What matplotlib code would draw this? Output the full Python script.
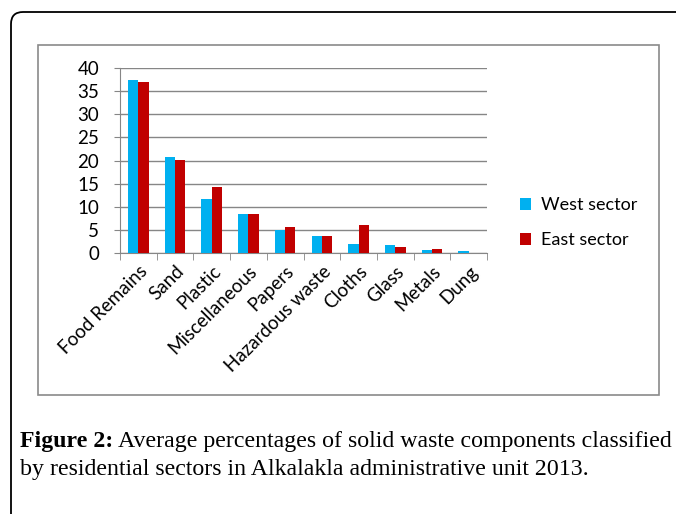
import matplotlib
matplotlib.use("Agg")
import matplotlib.pyplot as plt
import numpy as np
from matplotlib.patches import FancyBboxPatch, Rectangle

categories = ["Food Remains", "Sand", "Plastic", "Miscellaneous", "Papers",
              "Hazardous waste", "Cloths", "Glass", "Metals", "Dung"]
west = [37.3, 20.8, 11.7, 8.4, 5.0, 3.7, 1.9, 1.7, 0.6, 0.4]
east = [36.9, 20.2, 14.3, 8.4, 5.6, 3.7, 6.0, 1.4, 0.9, 0.0]
yticks = [0, 5, 10, 15, 20, 25, 30, 35, 40]
series_names = ["West sector", "East sector"]
colors = ["#00B0F0", "#C00000"]

W, H = 676, 514
fig = plt.figure(figsize=(W / 100, H / 100), dpi=100)
font = "Lato"

# outer rounded frame
frame = FancyBboxPatch((0.11, -0.5), 7.5, 5.02 + 0.5,
                       boxstyle="round,pad=0,rounding_size=0.12",
                       transform=fig.dpi_scale_trans, fill=False,
                       edgecolor="black", linewidth=1.3)
fig.add_artist(frame)

# inner chart box
fig.add_artist(Rectangle((38 / W, 1 - 395 / H), (659 - 38) / W, (395 - 45) / H,
                         transform=fig.transFigure, fill=False,
                         edgecolor="#8a8a8a", linewidth=1.2))

ax = fig.add_axes([120 / W, 1 - 253 / H, (487 - 120) / W, (253 - 68) / H])
x = np.arange(len(categories))
bw = 0.28
ax.bar(x - bw / 2, west, bw, color=colors[0], label=series_names[0], zorder=3)
ax.bar(x + bw / 2, east, bw, color=colors[1], label=series_names[1], zorder=3)

ax.set_xlim(-0.5, len(categories) - 0.5)
ax.set_ylim(0, 40)
ax.set_yticks(yticks)
ax.set_yticklabels([str(v) for v in yticks], fontsize=13.5, family=font)
ax.yaxis.grid(True, color="#868686", linewidth=1, zorder=0)
ax.set_axisbelow(True)
for s in ["top", "right"]:
    ax.spines[s].set_visible(False)
ax.spines["left"].set_color("#868686")
ax.spines["bottom"].set_color("#868686")
ax.tick_params(axis="y", length=4, color="#868686", pad=11)

ax.set_xticks(x)
ax.set_xticklabels(categories, rotation=45, ha="right", rotation_mode="anchor",
                   fontsize=13.5, family=font)
ax.tick_params(axis="x", length=0, pad=7)
ax.set_xticks(np.arange(len(categories) + 1) - 0.5, minor=True)
ax.tick_params(axis="x", which="minor", length=5, color="#868686")

leg = fig.legend(loc="upper left", bbox_to_anchor=(504 / W, 1 - 181 / H),
                 frameon=False, prop={"family": font, "size": 13},
                 handlelength=0.6, handleheight=0.6, handletextpad=0.55,
                 labelspacing=1.05)

# caption
cap_font = "Liberation Serif"
cap_size = 17.2
t1 = fig.text(20 / W, 1 - 441 / H, "Figure 2:", family=cap_font,
              fontweight="bold", fontsize=cap_size, va="center", ha="left")
fig.canvas.draw()
bb = t1.get_window_extent()
fig.text((bb.x1 + 5) / W, 1 - 441 / H,
         "Average percentages of solid waste components classified",
         family=cap_font, fontsize=cap_size, va="center", ha="left")
fig.text(20 / W, 1 - 470 / H,
         "by residential sectors in Alkalakla administrative unit 2013.",
         family=cap_font, fontsize=cap_size, va="center", ha="left")

fig.savefig("out.png", dpi=100)
